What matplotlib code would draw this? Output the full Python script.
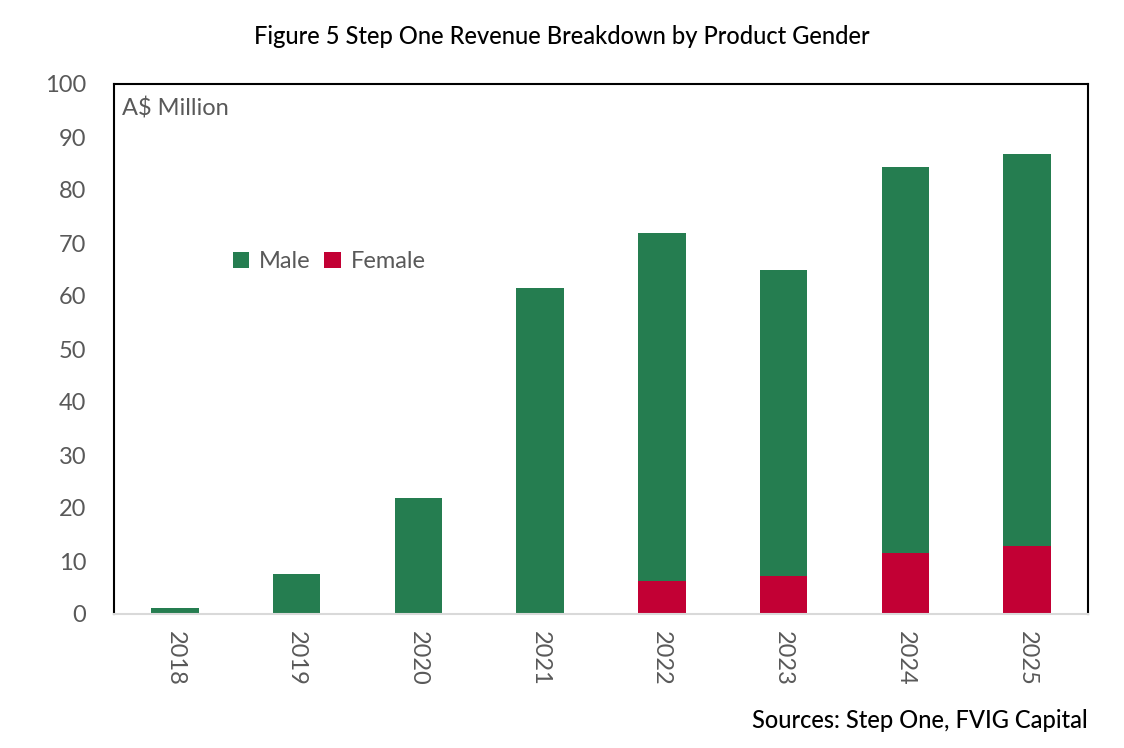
import matplotlib
matplotlib.use("Agg")
import matplotlib.pyplot as plt
import numpy as np

years = ["2018", "2019", "2020", "2021", "2022", "2023", "2024", "2025"]
female = [0, 0, 0, 0, 6.2, 7.2, 11.5, 12.9]
total = [1.2, 7.6, 21.9, 61.5, 71.9, 64.9, 84.4, 86.7]
male = [t - f for t, f in zip(total, female)]

GREEN = "#257D50"
RED = "#C20034"
GREY = "#595959"

plt.rcParams['font.family'] = ['Lato', 'DejaVu Sans']

fig = plt.figure(figsize=(11.24, 7.48), dpi=100)
ax = fig.add_axes([114/1124, 1 - 614/748, (1088 - 114)/1124, (614 - 84)/748])

x = np.arange(len(years))
ax.bar(x, female, width=0.39, color=RED, label="Female", zorder=2)
ax.bar(x, male, width=0.39, bottom=female, color=GREEN, label="Male", zorder=2)

ax.set_xlim(-0.5, len(years) - 0.5)
ax.set_ylim(0, 100)
ax.set_yticks(range(0, 101, 10))
ax.set_xticks(x)
ax.set_xticklabels(years, rotation=-90)
ax.tick_params(axis='both', length=0, labelsize=17, labelcolor=GREY)
ax.tick_params(axis='y', pad=20)
ax.tick_params(axis='x', pad=12)

for s in ['left', 'top', 'right']:
    ax.spines[s].set_color('black')
    ax.spines[s].set_linewidth(1.5)
ax.spines['bottom'].set_color('#D9D9D9')
ax.spines['bottom'].set_linewidth(1.5)

ax.text(0.008, 0.975, "A$ Million", transform=ax.transAxes, fontsize=17,
        color=GREY, ha='left', va='top')

handles, labels = ax.get_legend_handles_labels()
leg = ax.legend(handles[::-1], labels[::-1], loc='center left',
                bbox_to_anchor=(0.1, 0.665), ncol=2, frameon=False,
                fontsize=17, labelcolor=GREY, handlelength=0.7, handleheight=0.7,
                handletextpad=0.4, columnspacing=0.6)

fig.text(0.5, 1 - 36/748, "Figure 5 Step One Revenue Breakdown by Product Gender",
         ha='center', va='center', fontsize=17, fontweight='medium', color='black')
fig.text(1088/1124, 1 - 720/748, "Sources: Step One, FVIG Capital",
         ha='right', va='center', fontsize=17, fontweight='medium', color='black')

fig.savefig("out.png", dpi=100)
